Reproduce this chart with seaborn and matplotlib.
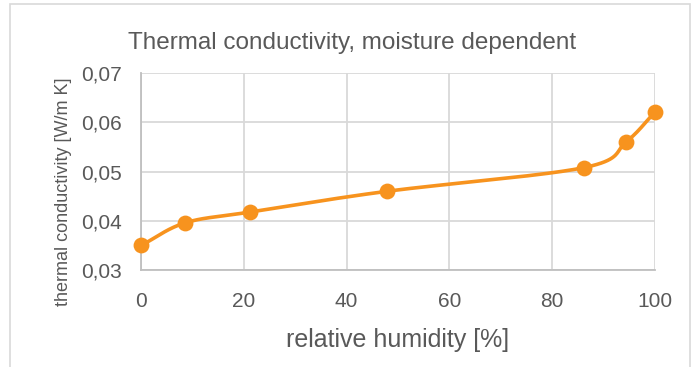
import numpy as np
import pandas as pd
import matplotlib
matplotlib.use("Agg")
import matplotlib.pyplot as plt
import seaborn as sns
from matplotlib.patches import Rectangle
from matplotlib import font_manager

humidity = [0, 8.6, 21.3, 47.9, 86.2, 94.5, 100]
conductivity = [0.0350, 0.0396, 0.0418, 0.0460, 0.0508, 0.0561, 0.0620]
x_ticks = [0, 20, 40, 60, 80, 100]
y_ticks = [0.03, 0.04, 0.05, 0.06, 0.07]

title = "Thermal conductivity, moisture dependent"
xlabel = "relative humidity [%]"
ylabel = "thermal conductivity [W/m K]"

sns.set_theme(style="white")
names = {f.name for f in font_manager.fontManager.ttflist}
fam = "Liberation Sans Narrow" if "Liberation Sans Narrow" in names else "Liberation Sans"
plt.rcParams["font.family"] = [fam, "DejaVu Sans"]

color = "#F7931E"
txt = "#595959"

df = pd.DataFrame({"rh": humidity, "k": conductivity})

# Excel-style smoothed line (Catmull-Rom spline through the data)
def smooth(x, y, n=40):
    x = np.asarray(x, float); y = np.asarray(y, float)
    px = np.concatenate([[2*x[0]-x[1]], x, [2*x[-1]-x[-2]]])
    py = np.concatenate([[2*y[0]-y[1]], y, [2*y[-1]-y[-2]]])
    xs, ys = [], []
    t = np.linspace(0, 1, n)
    for i in range(1, len(px)-2):
        p0, p1, p2, p3 = [np.array([px[j], py[j]]) for j in range(i-1, i+3)]
        c1 = p1 + (p2 - p0) / 6
        c2 = p2 - (p3 - p1) / 6
        pts = ((1-t)**3)[:, None]*p1 + (3*(1-t)**2*t)[:, None]*c1 + (3*(1-t)*t**2)[:, None]*c2 + (t**3)[:, None]*p2
        xs.extend(pts[:, 0]); ys.extend(pts[:, 1])
    return pd.DataFrame({"rh": xs, "k": ys})

sm = smooth(humidity, conductivity)

fig = plt.figure(figsize=(6.95, 3.67), dpi=100)
ax = fig.add_axes([0.203, 0.264, 0.739, 0.537])

sns.lineplot(data=sm, x="rh", y="k", sort=False, color=color, linewidth=2.6, ax=ax, zorder=3)
sns.scatterplot(data=df, x="rh", y="k", color=color, s=130, edgecolor=color, linewidth=0, ax=ax, zorder=4, clip_on=False)

ax.set_xlim(0, 100)
ax.set_ylim(0.03, 0.07)
ax.set_xticks(x_ticks)
ax.set_yticks(y_ticks)
ax.set_xticklabels([str(v) for v in x_ticks])
ax.set_yticklabels([f"{v:.2f}".replace(".", ",") for v in y_ticks])
ax.tick_params(axis="both", labelsize=15, colors=txt, length=0)
ax.tick_params(axis="x", pad=16)
ax.tick_params(axis="y", pad=14)
ax.grid(True, color="#d9d9d9", linewidth=1.3)
ax.set_axisbelow(True)
for s in ["top", "right"]:
    ax.spines[s].set_visible(False)
for s in ["left", "bottom"]:
    ax.spines[s].set_color("#bfbfbf")
    ax.spines[s].set_linewidth(1.3)

ax.set_xlabel(xlabel, fontsize=18, color=txt, labelpad=12)
ax.set_ylabel(ylabel, fontsize=13, color=txt, labelpad=4)
ax.yaxis.set_label_coords(-0.135, 0.40)
fig.text(0.507, 0.882, title, ha="center", va="center", fontsize=17.5, color=txt)

fig.patches.append(Rectangle((10/695, -0.05), 680/695, 1.05 - 4/367, transform=fig.transFigure,
                             fill=False, edgecolor="#d9d9d9", linewidth=1.2))

fig.savefig("out.png", dpi=100, facecolor="white")
